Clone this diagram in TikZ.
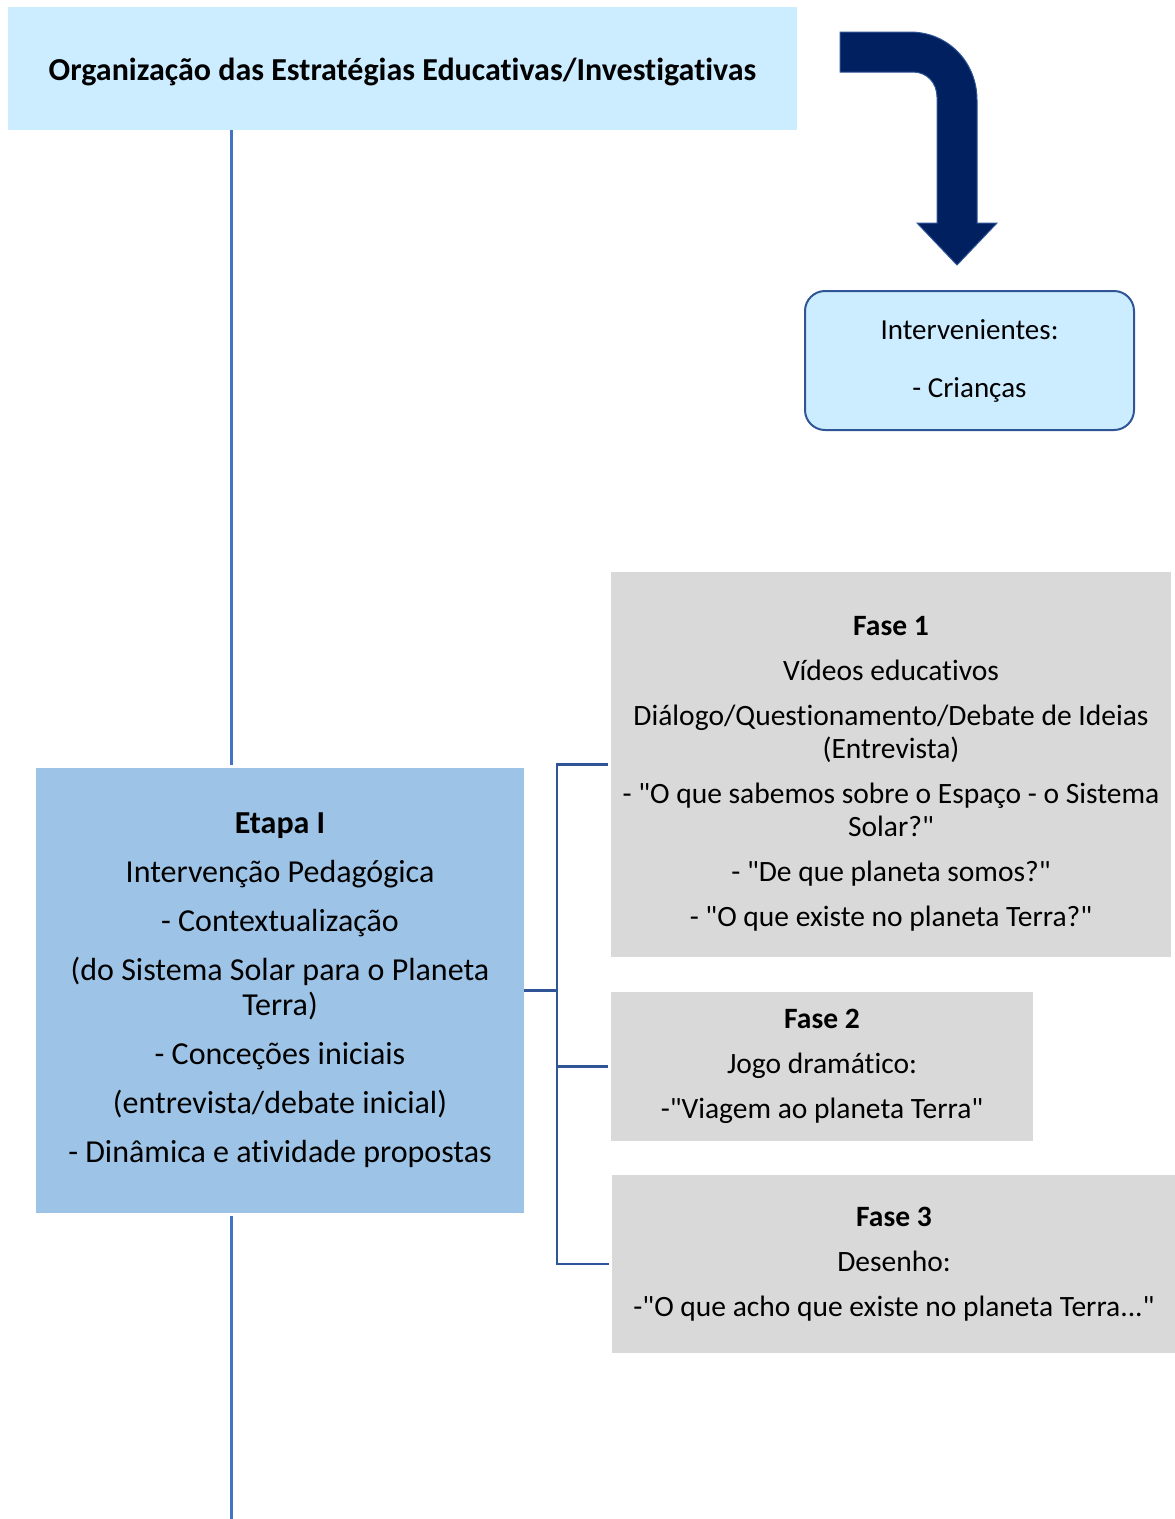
\documentclass[tikz,border=0pt]{standalone}
\usepackage{fontspec}
\setmainfont{Carlito}[Ligatures={TeX,NoCommon}]
\newcommand\dq{\textquotedbl}
\definecolor{titlefill}{HTML}{CCECFF}
\definecolor{etapafill}{HTML}{9DC3E6}
\definecolor{grayfill}{HTML}{D9D9D9}
\definecolor{vline}{HTML}{4472C4}
\definecolor{cline}{HTML}{2F5597}
\definecolor{navy}{HTML}{002060}
\tikzset{
  box/.style={inner sep=0pt, align=center, anchor=center},
  mainline/.style={draw=vline, line width=3pt},
  conn/.style={draw=cline, line width=2.5pt},
  fasefont/.style={font=\fontsize{29.5}{33}\selectfont},
}
\begin{document}
\begin{tikzpicture}[x=1pt,y=-1pt]
\useasboundingbox (0,0) rectangle (1175,1519);
% title
\node[box, fill=titlefill, minimum width=789pt, minimum height=123pt] (title) at (402.5,68.5) {};
\node[box, font=\fontsize{32}{38}\selectfont\bfseries] (titletext) at ([yshift=-3pt]title.center)
  {Organização das Estratégias Educativas/Investigativas};
% intervenientes
\node[box, fill=titlefill, draw=cline, line width=2pt, rounded corners=20pt,
  minimum width=329pt, minimum height=139pt,
  font=\fontsize{29}{33}\selectfont] (interv) at (969.5,360.5)
  {Intervenientes:\\[25pt] - Crianças};
% etapa
\node[box, fill=etapafill, minimum width=488pt, minimum height=445pt,
  font=\fontsize{32}{35}\selectfont] (etapa) at (280,990.5)
  {\textbf{Etapa I}\\[14pt]
   Intervenção Pedagógica\\[14pt]
   - Contextualização\\[14pt]
   (do Sistema Solar para o Planeta\\
   Terra)\\[14pt]
   - Conceções iniciais\\[14pt]
   (entrevista/debate inicial)\\[14pt]
   - Dinâmica e atividade propostas};
% fases
\node[box, fill=grayfill, minimum width=560pt, minimum height=385pt] (fase1) at (891,764.5) {};
\node[box, fasefont] (fase1text) at ([yshift=-9pt]fase1.center)
  {\textbf{Fase 1}\\[12pt]
   Vídeos educativos\\[12pt]
   Diálogo/Questionamento/Debate de Ideias\\
   (Entrevista)\\[12pt]
   - \dq O que sabemos sobre o Espaço - o Sistema\\
   Solar?\dq\\[12pt]
   - \dq De que planeta somos?\dq\\[12pt]
   - \dq O que existe no planeta Terra?\dq};
\node[box, fill=grayfill, minimum width=422pt, minimum height=149pt, fasefont] (fase2) at (822,1066.5)
  {\textbf{Fase 2}\\[12pt]
   Jogo dramático:\\[12pt]
   -\dq Viagem ao planeta Terra\dq};
\node[box, fill=grayfill, minimum width=564pt, minimum height=178pt, fasefont] (fase3) at (894,1264)
  {\textbf{Fase 3}\\[12pt]
   Desenho:\\[12pt]
   -\dq O que acho que existe no planeta Terra...\dq};
% main vertical line
\coordinate (vtop) at (231,130);
\coordinate (vmid) at (231,765);
\coordinate (vlow) at (231,1216);
\coordinate (vbot) at (231,1519);
\draw[mainline] (vtop) -- (vmid);
\draw[mainline] (vlow) -- (vbot);
% bracket connectors
\coordinate (bus) at (557,990.5);
\draw[conn] (etapa.east) -- (bus);
\draw[conn, shorten >=3pt] (bus) |- (fase1.west);
\draw[conn, shorten >=3pt] (bus) |- (fase2.west);
\draw[conn, shorten >=3pt] (bus) |- (fase3.west);
% bent arrow
\draw[fill=navy, draw=cline, line width=1pt, line join=miter]
  (840,32) -- (910,32) .. controls (948,32) and (977,62) .. (977,100)
  -- (977,223) -- (997,223) -- (957,265) -- (917,223) -- (937,223)
  -- (937,97) .. controls (937,83) and (927,72) .. (913,72)
  -- (840,72) -- cycle;
\end{tikzpicture}
\end{document}
